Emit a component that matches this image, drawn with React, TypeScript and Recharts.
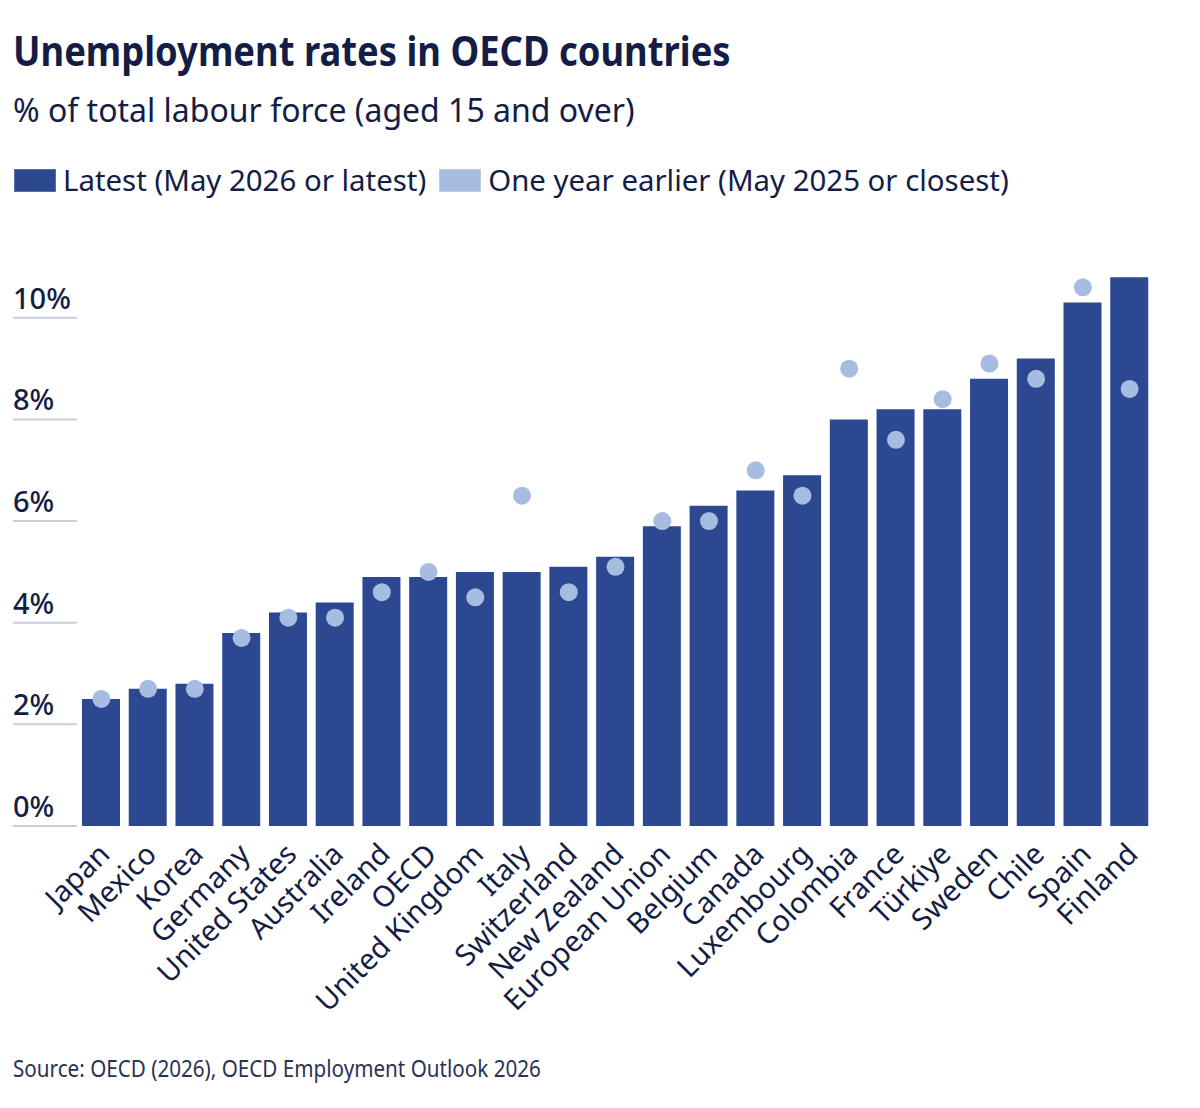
import React from 'react';
import { ComposedChart, Bar, Line, XAxis, YAxis } from 'recharts';

const countries = [
  'Japan', 'Mexico', 'Korea', 'Germany', 'United States', 'Australia', 'Ireland', 'OECD',
  'United Kingdom', 'Italy', 'Switzerland', 'New Zealand', 'European Union', 'Belgium', 'Canada',
  'Luxembourg', 'Colombia', 'France', 'Türkiye', 'Sweden', 'Chile', 'Spain', 'Finland',
];
const latest = [2.5, 2.7, 2.8, 3.8, 4.2, 4.4, 4.9, 4.9, 5.0, 5.0, 5.1, 5.3, 5.9, 6.3, 6.6, 6.9, 8.0, 8.2, 8.2, 8.8, 9.2, 10.3, 10.8];
const yearEarlier = [2.5, 2.7, 2.7, 3.7, 4.1, 4.1, 4.6, 5.0, 4.5, 6.5, 4.6, 5.1, 6.0, 6.0, 7.0, 6.5, 9.0, 7.6, 8.4, 9.1, 8.8, 10.6, 8.6];
const yTicks = [0, 2, 4, 6, 8, 10];

const NAVY = '#141d45';
const DARK_BLUE = '#2c4891';
const LIGHT_BLUE = '#a6bde1';
const FONT = '"Noto Sans", sans-serif';

const data = countries.map((c, i) => ({ country: c, latest: latest[i], earlier: yearEarlier[i] }));

const YTick = ({ y, payload }: any) => (
  <g>
    <line x1={13} x2={77} y1={y} y2={y} stroke="#c9cfdd" strokeWidth={2} />
    <text x={13} y={y - 9} fontSize={29} fontWeight={500} fill={NAVY} fontFamily={FONT}>{`${payload.value}%`}</text>
  </g>
);

const XTick = ({ x, y, payload }: any) => (
  <text
    transform={`translate(${x + 10},${y + 22}) rotate(-45)`}
    textAnchor="end"
    fontSize={29}
    fill={NAVY}
    fontFamily={FONT}
  >
    {payload.value}
  </text>
);

const Swatch = ({ color, border }: { color: string; border: string }) => (
  <span style={{ display: 'inline-block', width: 40, height: 21, background: color, border: `1px solid ${border}`, marginRight: 7, verticalAlign: 'middle' }} />
);

export default function App() {
  return (
    <div style={{ position: 'absolute', left: 0, top: 0, width: 1200, height: 1108, background: '#fff', fontFamily: FONT, color: NAVY }}>
      <div style={{ position: 'absolute', left: 13, top: 22, fontSize: 41, fontWeight: 700, whiteSpace: 'nowrap', transform: 'scaleX(0.887)', transformOrigin: 'left' }}>
        Unemployment rates in OECD countries
      </div>
      <div style={{ position: 'absolute', left: 13, top: 88, fontSize: 32, whiteSpace: 'nowrap' }}>
        % of total labour force (aged 15 and over)
      </div>
      <div style={{ position: 'absolute', left: 14, top: 160, fontSize: 29.4, whiteSpace: 'nowrap', display: 'flex', alignItems: 'center' }}>
        <Swatch color={DARK_BLUE} border="#5a6fa8" />
        <span style={{ marginRight: 13 }}>Latest (May 2026 or latest)</span>
        <Swatch color={LIGHT_BLUE} border="#c4ccd8" />
        <span>One year earlier (May 2025 or closest)</span>
      </div>
      <div style={{ position: 'absolute', left: 0, top: 0 }}>
        <ComposedChart width={1200} height={1108} data={data} margin={{ top: 267, right: 47, bottom: 182, left: 0 }}>
          <XAxis dataKey="country" interval={0} height={100} axisLine={false} tickLine={false} tick={<XTick />} />
          <YAxis width={78} domain={[0, 11]} ticks={yTicks} axisLine={false} tickLine={false} tick={<YTick />} />
          <Bar dataKey="latest" fill={DARK_BLUE} barSize={38} isAnimationActive={false} />
          <Line dataKey="earlier" stroke="none" dot={{ r: 9, fill: LIGHT_BLUE, stroke: 'none' }} activeDot={false} isAnimationActive={false} />
        </ComposedChart>
      </div>
      <div style={{ position: 'absolute', left: 13, top: 1051, fontSize: 24, whiteSpace: 'nowrap', color: '#2a3352', transform: 'scaleX(0.86)', transformOrigin: 'left' }}>
        Source: OECD (2026), OECD Employment Outlook 2026
      </div>
    </div>
  );
}
